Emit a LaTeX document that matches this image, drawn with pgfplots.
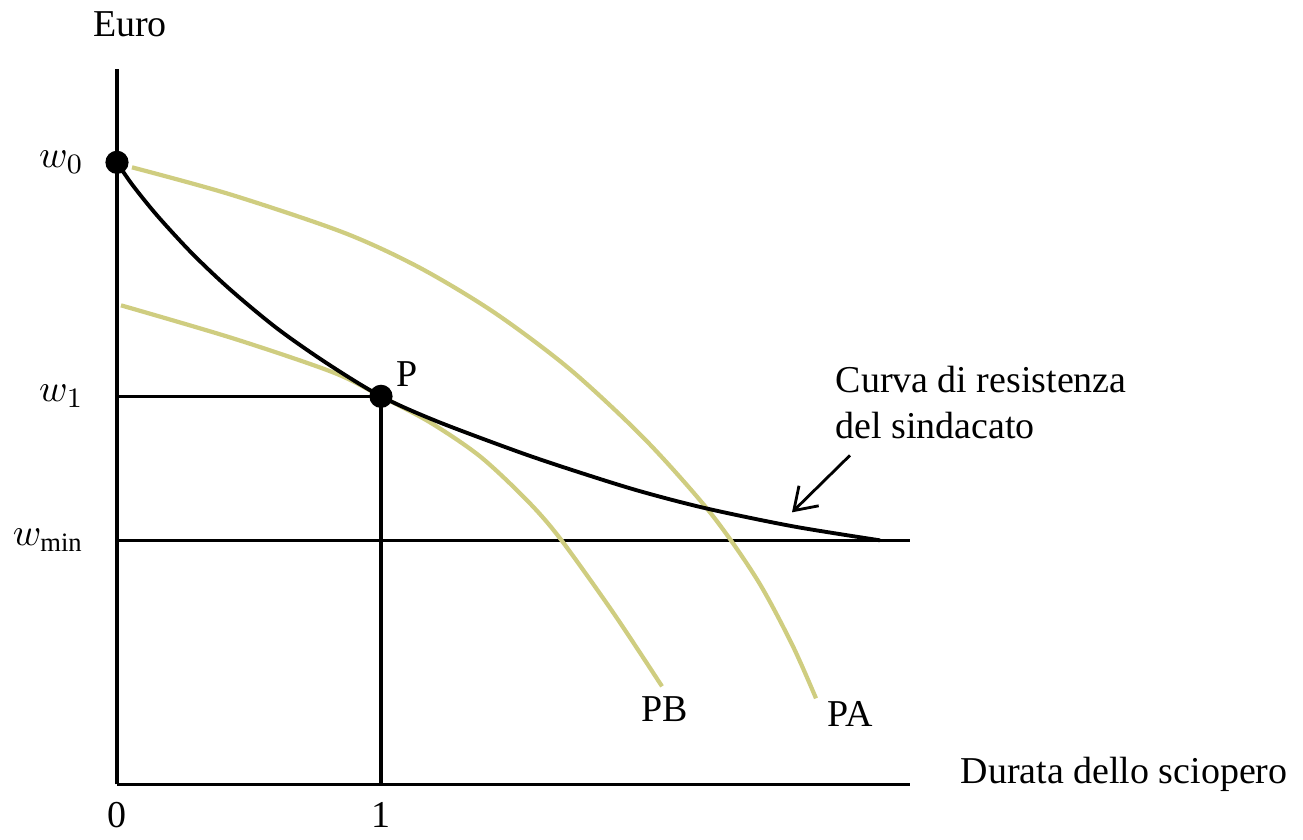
\documentclass[border=0pt]{standalone}
\usepackage{fontspec}
\setmainfont{Liberation Serif}
\usepackage{pgfplots}
\pgfplotsset{compat=1.18}
\usetikzlibrary{arrows.meta}
\definecolor{isoyel}{HTML}{CFCD80}

\begin{document}
\begin{tikzpicture}
\begin{axis}[
  scale only axis,
  width=79.3mm, height=71.5mm,
  xmin=0, xmax=793, ymin=0, ymax=715,
  axis lines=left,
  axis line style={-, line width=0.9pt},
  xtick={0,264}, xticklabels={0,1},
  ytick={244,388,622},
  yticklabels={$w_{\mathrm{min}}$,$w_1$,$w_0$},
  major tick length=0pt,
  font=\fontsize{10.8}{13}\selectfont,
  yticklabel style={xshift=-6pt},
  xticklabel style={yshift=-1.5pt},
  clip=false,
]
% page frame, in picture pixels (x = px-117, y = 775-py)
\path (axis cs:-117,-44) rectangle (axis cs:1186,775);

% guide lines
\addplot[black, line width=0.9pt] coordinates {(0,244) (793,244)};
\addplot[black, line width=0.9pt] coordinates {(0,388) (264,388)};
\addplot[black, line width=0.9pt] coordinates {(264,0) (264,388)};

% isoprofit curves PA and PB
\addplot[isoyel, line width=1.2pt, smooth] coordinates {
  (15,617) (113,590) (226,552) (302,517) (377,472) (453,415)
  (528,345) (593,272) (640,205) (675,140) (699,86)};
\addplot[isoyel, line width=1.2pt, smooth] coordinates {
  (4,479) (116,446) (216,412) (264,388) (313,362) (363,328)
  (410,284) (443,246) (496,172) (545,98)};

% union resistance curve
\addplot[black, line width=1.1pt, smooth] coordinates {
  (0,622) (15,600) (40,569) (75,531) (113,495) (160,456) (210,421)
  (264,388) (320,363) (400,333) (453,315) (520,294) (589,276)
  (676,258) (763,244)};

% points w0 and P
\addplot[only marks, mark=*, mark size=3.1pt, black] coordinates {
  (0,622) (264,388)};

\node at (axis cs:13,760) {Euro};
\node at (axis cs:290,410) {P};
\node[anchor=west, align=left, inner sep=0pt] at (axis cs:718,382)
  {Curva di resistenza\\del sindacato};
\draw[-{Straight Barb[length=6pt,width=8pt]}, line width=0.8pt]
  (axis cs:733,329) -- (axis cs:675,272);
\node at (axis cs:548,75) {PB};
\node at (axis cs:733,70) {PA};
\node[anchor=west, inner sep=0pt] at (axis cs:843,10) {Durata dello sciopero};
\end{axis}
\end{tikzpicture}
\end{document}
